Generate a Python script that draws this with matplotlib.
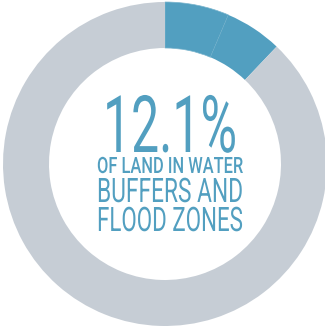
import matplotlib
matplotlib.use("Agg")
import matplotlib.pyplot as plt
from matplotlib import patheffects
from matplotlib.transforms import Affine2D

# share of land, split in two blue parts + remainder
shares = [6.4, 5.7, 87.9]
colors = ["#529fc0", "#529fc0", "#c6cdd5"]
headline = "12.1%"
lines = ["OF LAND IN WATER", "BUFFERS AND", "FLOOD ZONES"]

blue = "#529fc0"
font = "Roboto"


class Squeeze(patheffects.AbstractPathEffect):
    # narrows glyphs around the text anchor, to mimic a condensed face
    def __init__(self, sx, x0):
        super().__init__()
        self.sx, self.x0 = sx, x0

    def draw_path(self, renderer, gc, tpath, affine, rgbFace=None):
        t = affine + Affine2D().translate(-self.x0, 0).scale(self.sx, 1).translate(self.x0, 0)
        renderer.draw_path(gc, tpath, t, rgbFace)


fig = plt.figure(figsize=(3.25, 3.26), dpi=100)
ax = fig.add_axes([0, 0, 1, 1])
wedges, _ = ax.pie(shares, colors=colors, startangle=90, counterclock=False,
                   center=(165, 162), radius=162,
                   wedgeprops=dict(width=46, edgecolor="none"))
wedges[0].set_edgecolor("#79b4cd")
wedges[0].set_linewidth(0.5)
ax.set_xlim(0, 325)
ax.set_ylim(0, 326)
ax.set_aspect("auto")
ax.axis("off")

# (text, x centre, baseline y, size, weight, target width in px)
specs = [
    (headline, 170, 174, 57, "normal", 134),
    (lines[0], 170, 153, 16.2, "medium", 146),
    (lines[1], 170, 124, 24.3, "normal", 146),
    (lines[2], 170, 95, 24.3, "normal", 146),
]
texts = []
for s, x, y, size, weight, w in specs:
    t = ax.text(x, y, s, color=blue, fontsize=size, family=font,
                fontweight=weight, ha="center", va="baseline")
    texts.append((t, x, w))

fig.canvas.draw()
r = fig.canvas.get_renderer()
for t, x, w in texts:
    bb = t.get_window_extent(r)
    x0 = ax.transData.transform((x, 0))[0]
    t.set_path_effects([Squeeze(w / bb.width, x0)])

fig.savefig("out.png", dpi=100)
